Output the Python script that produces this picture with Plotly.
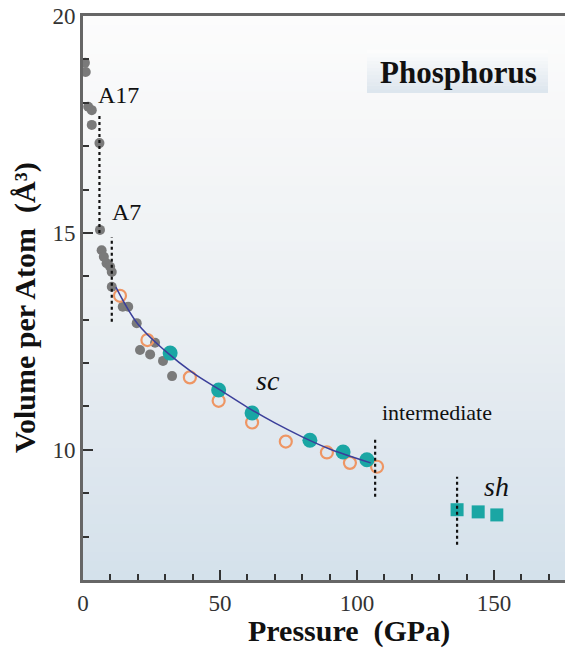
import plotly.graph_objects as go

# ---- data ----
grey_p = [0.7, 1.0, 1.9, 3.2, 3.2, 6.0, 6.2, 6.8, 7.6, 8.6, 9.9, 10.5, 10.5,
          14.5, 16.5, 19.6, 20.8, 24.5, 26.3, 29.2, 32.5]
grey_v = [18.92, 18.71, 17.91, 17.83, 17.49, 17.07, 15.07, 14.6, 14.45, 14.3, 14.22, 14.1, 13.76,
          13.3, 13.3, 12.92, 12.3, 12.2, 12.47, 12.05, 11.7]

orange_p = [13.5, 23.5, 39.0, 49.5, 61.7, 74.0, 89.0, 97.4, 107.3]
orange_v = [13.55, 12.53, 11.67, 11.13, 10.63, 10.19, 9.94, 9.7, 9.61]

teal_p = [31.8, 49.5, 61.7, 82.8, 94.9, 103.6]
teal_v = [12.23, 11.38, 10.85, 10.22, 9.95, 9.77]

sh_p = [136.5, 144.2, 151.0]
sh_v = [8.62, 8.57, 8.5]

fit_p = [12, 20, 30, 40, 50, 60, 70, 80, 90, 100, 105]
fit_v = [13.75, 12.9, 12.28, 11.78, 11.38, 10.98, 10.62, 10.3, 10.02, 9.8, 9.7]

trans_p = [6.0, 10.5, 106.6, 136.5]
trans_lo = [15.0, 12.95, 8.92, 7.81]
trans_hi = [17.7, 14.9, 10.3, 9.38]

x_ticks = [0, 50, 100, 150]
y_ticks = [10, 15, 20]

SERIF = "Liberation Serif, Times New Roman, serif"

fig = go.Figure()

fig.add_trace(go.Scatter(x=grey_p, y=grey_v, mode="markers",
                         marker=dict(size=10, color="#7a7a7a"), showlegend=False))
fig.add_trace(go.Scatter(x=orange_p, y=orange_v, mode="markers",
                         marker=dict(size=12, color="rgba(0,0,0,0)",
                                     line=dict(color="#ee9664", width=2.2)), showlegend=False))
fig.add_trace(go.Scatter(x=teal_p, y=teal_v, mode="markers",
                         marker=dict(size=15, color="#1aa6a4"), showlegend=False))
fig.add_trace(go.Scatter(x=fit_p, y=fit_v, mode="lines",
                         line=dict(color="#3b3f9a", width=1.5, shape="spline"), showlegend=False))
fig.add_trace(go.Scatter(x=sh_p, y=sh_v, mode="markers",
                         marker=dict(size=13, symbol="square", color="#1aa6a4"), showlegend=False))

dx, dy = [], []
for p, lo, hi in zip(trans_p, trans_lo, trans_hi):
    dx += [p, p, None]
    dy += [lo, hi, None]
fig.add_trace(go.Scatter(x=dx, y=dy, mode="lines",
                         line=dict(color="#111111", width=2.2, dash="dot"), showlegend=False))

# background gradient (white at top to pale blue at bottom)
stops = [(0.0, (212, 225, 235)), (0.25, (224, 232, 239)), (0.5, (236, 240, 243)),
         (0.8, (246, 247, 248)), (1.0, (252, 252, 252))]

def grad(t):
    for (t0, c0), (t1, c1) in zip(stops[:-1], stops[1:]):
        if t <= t1:
            f = (t - t0) / (t1 - t0)
            return "rgb(%d,%d,%d)" % tuple(round(a + (b - a) * f) for a, b in zip(c0, c1))
    return "rgb(%d,%d,%d)" % stops[-1][1]

shapes = []
N = 60
for i in range(N):
    shapes.append(dict(type="rect", xref="paper", yref="paper", x0=0, x1=1,
                       y0=i / N, y1=(i + 1) / N + 0.002, line=dict(width=0),
                       fillcolor=grad((i + 0.5) / N), layer="below"))

# title box gradient
bx0, bx1, by0, by1 = (367 - 83) / 490, (548 - 83) / 490, (580 - 93) / 564, (580 - 50) / 564
M = 12
for i in range(M):
    t = (i + 0.5) / M
    c = tuple(round(a + (b - a) * t) for a, b in zip((220, 229, 237), (253, 253, 253)))
    shapes.append(dict(type="rect", xref="paper", yref="paper", x0=bx0, x1=bx1,
                       y0=by0 + (by1 - by0) * i / M, y1=by0 + (by1 - by0) * (i + 1) / M + 0.001,
                       line=dict(width=0), fillcolor="rgb(%d,%d,%d)" % c, layer="below"))

ann = [
    dict(x=13, y=18.18, text="A17", font=dict(size=24)),
    dict(x=16, y=15.48, text="A7", font=dict(size=24)),
    dict(x=67.5, y=11.6, text="<i>sc</i>", font=dict(size=28)),
    dict(x=129, y=10.85, text="intermediate", font=dict(size=22)),
    dict(x=151, y=9.15, text="<i>sh</i>", font=dict(size=28)),
    dict(x=137, y=18.69, text="<b>Phosphorus</b>", font=dict(size=31)),
    dict(x=(349 - 83) / 490, y=(580 - 631) / 564, xref="paper", yref="paper",
         text="<b>Pressure  (GPa)</b>", font=dict(size=30)),
    dict(x=(25 - 83) / 490, y=(580 - 308) / 564, xref="paper", yref="paper",
         text="<b>Volume per Atom  (Å³)</b>", font=dict(size=30), textangle=-90),
]
for a in ann:
    a.setdefault("xref", "x")
    a.setdefault("yref", "y")
    a["showarrow"] = False
    a["font"]["family"] = SERIF
    a["font"]["color"] = "#111111"
    a["xanchor"] = "center"
    a["yanchor"] = "middle"

# the page adds an 8 px body margin, so the figure is drawn 8 px smaller and offset
fig.update_layout(
    width=565, height=640,
    margin=dict(l=75, r=0, t=8, b=68, autoexpand=False),
    paper_bgcolor="white", plot_bgcolor="rgba(0,0,0,0)",
    shapes=shapes, annotations=ann, showlegend=False,
    font=dict(family=SERIF, color="#222222"),
    xaxis=dict(range=[0, 178.8], tickvals=x_ticks, ticks="inside", ticklen=10, tickwidth=2,
               tickcolor="#333333", showline=True, linecolor="#666666", linewidth=3,
               mirror=True, showgrid=False, zeroline=False, automargin=False,
               ticklabeloverflow="allow",
               tickfont=dict(size=23, color="#333333"),
               minor=dict(dtick=10, tick0=0, ticks="inside", ticklen=6, tickwidth=2,
                          tickcolor="#333333", showgrid=False)),
    yaxis=dict(range=[7, 20], tickvals=y_ticks, ticks="inside", ticklen=10, tickwidth=2,
               tickcolor="#333333", showline=True, linecolor="#666666", linewidth=3,
               showgrid=False, zeroline=False, automargin=False,
               ticklabeloverflow="allow",
               tickfont=dict(size=23, color="#333333"),
               minor=dict(dtick=1, tick0=0, ticks="inside", ticklen=6, tickwidth=2,
                          tickcolor="#333333", showgrid=False)),
)

fig.write_html("out.html")
